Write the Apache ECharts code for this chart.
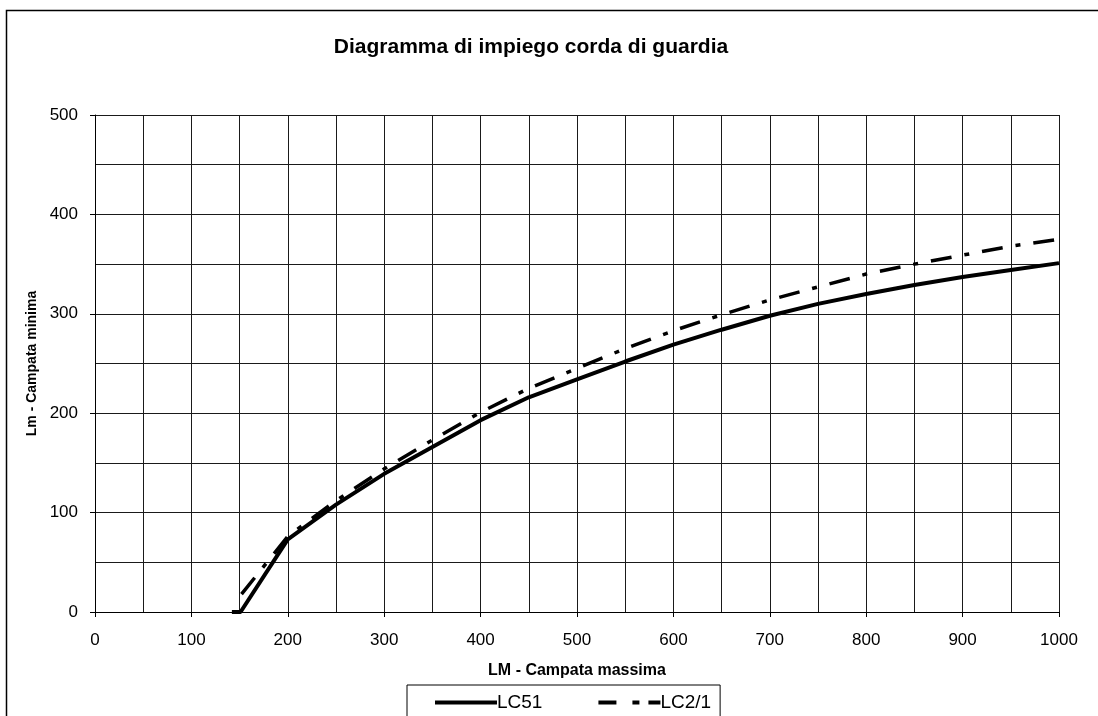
<!DOCTYPE html>
<html>
<head>
<meta charset="utf-8">
<script src="https://cdn.jsdelivr.net/npm/echarts@6/dist/echarts.min.js"></script>
<style>
html,body{margin:0;padding:0;background:#fff;}
#chart{width:1098px;height:716px;}
</style>
</head>
<body>
<div id="chart"></div>
<script>
// Data
var titleText = 'Diagramma di impiego corda di guardia';
var xAxisName = 'LM - Campata massima';
var yAxisName = 'Lm - Campata minima';
var seriesNames = ['LC51', 'LC2/1'];

// LC51 (solid)
var lc51X = [142, 151, 200, 250, 300, 350, 400, 450, 500, 550, 600, 650, 700, 750, 800, 850, 900, 950, 1000];
var lc51Y = [0, 0, 73, 108, 139, 166, 193, 216, 234, 252, 269, 284, 298, 310, 320, 329, 337, 344, 351];

// LC2/1 (dash-dot)
var lc21X = [152, 200, 250, 300, 350, 400, 450, 500, 550, 600, 650, 700, 750, 800, 850, 900, 950, 1000];
var lc21Y = [18, 76, 112, 144, 173, 201, 225, 245, 265, 283, 299, 314, 327, 340, 350, 359, 368, 375];

function pairs(xs, ys) {
  var out = [];
  for (var i = 0; i < xs.length; i++) out.push([xs[i], ys[i]]);
  return out;
}

var FONT = '"Liberation Sans", Arial, sans-serif';
var gridColor = '#1a1a1a';
var dashPattern = [21, 13, 5, 13];

var chart = echarts.init(document.getElementById('chart'), null, {renderer: 'canvas'});
chart.setOption({
  animation: false,
  backgroundColor: '#fff',
  title: {
    text: titleText,
    left: 526,
    top: 32,
    textAlign: 'center',
    textStyle: {fontFamily: FONT, fontSize: 21, fontWeight: 'bold', color: '#000'}
  },
  graphic: [
    {type: 'polyline', silent: true, shape: {points: [[6.5, 730], [6.5, 10.5], [1110, 10.5]]},
     style: {stroke: '#000', lineWidth: 1.5, fill: null}}
  ],
  legend: {
    left: 407,
    top: 685,
    padding: [8, 9, 30, 26],
    borderColor: '#000',
    borderWidth: 1,
    itemWidth: 62,
    itemHeight: 14,
    itemGap: 54,
    itemStyle: {opacity: 0},
    textStyle: {fontFamily: FONT, fontSize: 19, color: '#000', padding: [0, 0, 0, -5]},
    data: [
      {name: seriesNames[0], lineStyle: {width: 4, color: '#000', type: 'solid'}},
      {name: seriesNames[1], lineStyle: {width: 4, color: '#000', type: [18, 16, 7, 9], cap: 'butt'}}
    ]
  },
  grid: {left: 95, right: 39, top: 115, bottom: 104, containLabel: false},
  xAxis: {
    type: 'value',
    min: 0, max: 1000, interval: 100,
    name: xAxisName,
    nameLocation: 'middle',
    nameGap: 51,
    nameTextStyle: {fontFamily: FONT, fontSize: 16, fontWeight: 'bold', color: '#000'},
    axisLine: {show: true, lineStyle: {color: '#000', width: 1}},
    axisTick: {show: true, length: 5, inside: false, lineStyle: {color: '#000'}},
    axisLabel: {fontFamily: FONT, fontSize: 17, color: '#000', margin: 20,
      formatter: function (v) { return String(v); }},
    splitLine: {show: true, lineStyle: {color: gridColor, width: 1}},
    minorTick: {show: false, splitNumber: 2},
    minorSplitLine: {show: true, lineStyle: {color: gridColor, width: 1}}
  },
  yAxis: {
    type: 'value',
    min: 0, max: 500, interval: 100,
    name: yAxisName,
    nameLocation: 'middle',
    nameGap: 56,
    nameTextStyle: {fontFamily: FONT, fontSize: 14, fontWeight: 'bold', color: '#000'},
    axisLine: {show: true, lineStyle: {color: '#000', width: 1}},
    axisTick: {show: true, length: 5, inside: false, lineStyle: {color: '#000'}},
    axisLabel: {fontFamily: FONT, fontSize: 17, color: '#000', margin: 17,
      formatter: function (v) { return String(v); }},
    splitLine: {show: true, lineStyle: {color: gridColor, width: 1}},
    minorTick: {show: false, splitNumber: 2},
    minorSplitLine: {show: true, lineStyle: {color: gridColor, width: 1}}
  },
  series: [
    {
      name: seriesNames[0],
      type: 'line',
      data: pairs(lc51X, lc51Y),
      symbol: 'none',
      smooth: false,
      lineStyle: {color: '#000', width: 4, type: 'solid'},
      itemStyle: {color: '#000'},
      z: 3
    },
    {
      name: seriesNames[1],
      type: 'line',
      data: pairs(lc21X, lc21Y),
      symbol: 'none',
      smooth: false,
      lineStyle: {color: '#000', width: 3.5, type: dashPattern, cap: 'butt'},
      itemStyle: {color: '#000'},
      z: 4
    }
  ]
});
</script>
</body>
</html>
